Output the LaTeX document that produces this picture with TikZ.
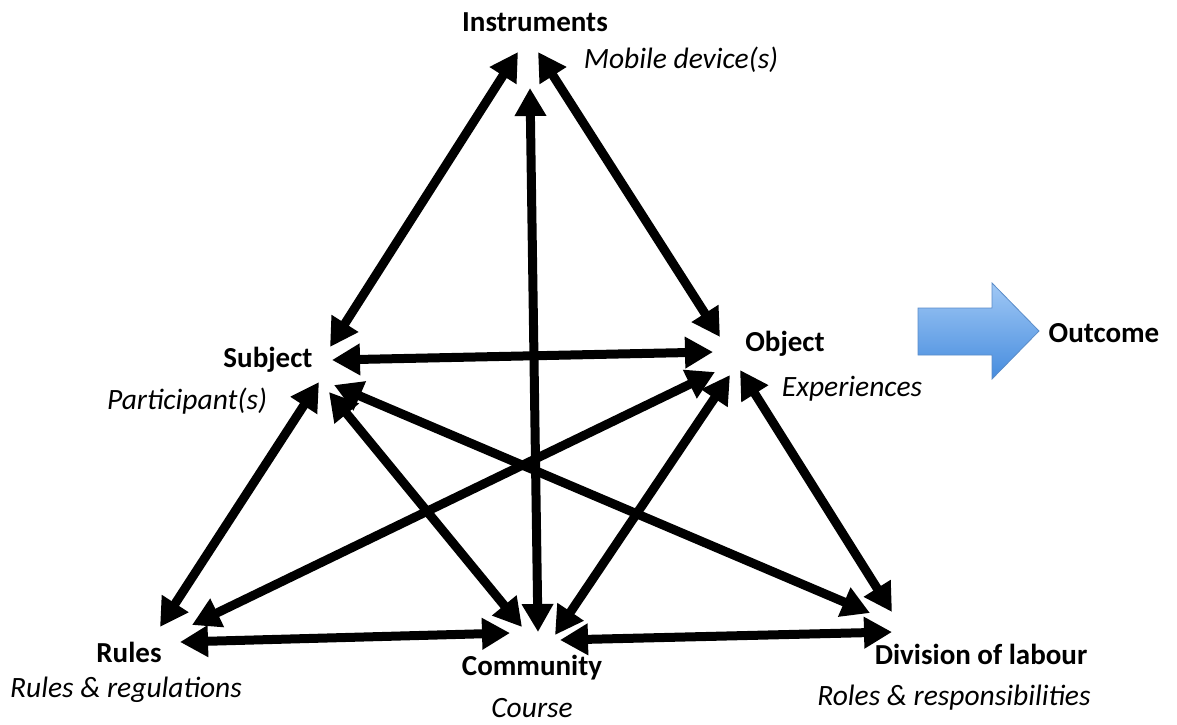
\documentclass[tikz,border=0pt]{standalone}
\usepackage{fontspec}
\setmainfont{Carlito}
\usetikzlibrary{arrows.meta}
\definecolor{arrowtop}{RGB}{160,200,245}
\definecolor{arrowbottom}{RGB}{70,140,222}
\definecolor{arrowedge}{RGB}{90,140,200}
\begin{document}
\begin{tikzpicture}[x=1pt,y=-1pt,
  label/.style={inner sep=0pt,font=\fontsize{29}{33}\selectfont\bfseries},
  note/.style={inner sep=0pt,font=\fontsize{29.5}{33}\selectfont\itshape},
  link/.style={line width=9pt,{Triangle[length=28pt,width=30pt]}-{Triangle[length=28pt,width=30pt]}},
  bluearrow/.style={draw=arrowedge,line width=0.8pt,top color=arrowtop,bottom color=arrowbottom}]
\path[use as bounding box] (0,0) rectangle (1177,724);

% vertex labels
\node[label] (instr) at (535,22) {Instruments};
\node[note]  (instrN) at (681,60) {Mobile device(s)};
\node[label] (subj) at (268,360) {Subject};
\node[note]  (subjN) at (187,401) {Participant(s)};
\node[label] (obj) at (785,344) {Object};
\node[note]  (objN) at (852,389) {Experiences};
\node[label] (outc) at (1104,333) {Outcome};
\node[label] (rules) at (129,652) {Rules};
\node[note]  (rulesN) at (126,690) {Rules \& regulations};
\node[label] (comm) at (532,668) {Community};
\node[note]  (commN) at (532,708) {Course};
\node[label] (div) at (981,654) {Division of labour};
\node[note]  (divN) at (954,698) {Roles \& responsibilities};

% arrow ends around each vertex
\coordinate (i-s) at (518,52);
\coordinate (i-o) at (538,52);
\coordinate (i-c) at (530,88);
\coordinate (s-i) at (330,347);
\coordinate (s-o) at (332,360);
\coordinate (s-r) at (319,382);
\coordinate (s-c) at (329,392);
\coordinate (s-d) at (334,385);
\coordinate (o-i) at (720,337);
\coordinate (o-s) at (713,352);
\coordinate (o-r) at (715,372);
\coordinate (o-c) at (730,375);
\coordinate (o-d) at (740,370);
\coordinate (r-s) at (160,627);
\coordinate (r-o) at (192,625);
\coordinate (r-c) at (180,642);
\coordinate (c-s) at (522,627);
\coordinate (c-i) at (538,632);
\coordinate (c-o) at (555,635);
\coordinate (c-r) at (510,633);
\coordinate (c-d) at (560,640);
\coordinate (d-s) at (870,613);
\coordinate (d-o) at (892,612);
\coordinate (d-c) at (892,632);

% double-headed links
\draw[link] (i-s) -- (s-i);
\draw[link] (i-o) -- (o-i);
\draw[link] (i-c) -- (c-i);
\draw[link] (s-o) -- (o-s);
\draw[link] (s-r) -- (r-s);
\draw[link] (s-c) -- (c-s);
\draw[link] (s-d) -- (d-s);
\draw[link] (o-r) -- (r-o);
\draw[link] (o-c) -- (c-o);
\draw[link] (o-d) -- (d-o);
\draw[link] (r-c) -- (c-r);
\draw[link] (c-d) -- (d-c);

% block arrow towards the outcome
\draw[bluearrow] (918,308) -- (992,308) -- (992,283) -- (1039,331) -- (992,379) -- (992,355) -- (918,355) -- cycle;
\end{tikzpicture}
\end{document}
